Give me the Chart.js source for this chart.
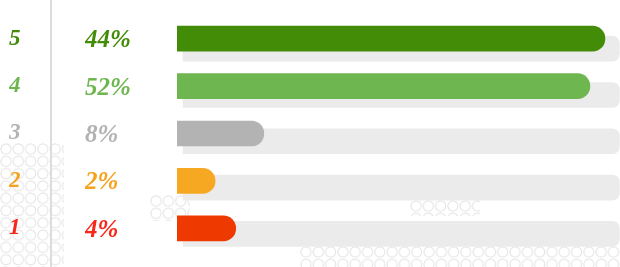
<!DOCTYPE html>
<html><head><meta charset="utf-8">
<script src="https://cdn.jsdelivr.net/npm/chart.js@4/dist/chart.umd.min.js"></script>
<style>
html,body{margin:0;padding:0;background:#fff;}
#wrap{position:relative;width:620px;height:267px;overflow:hidden;background:#fff;}
.dots{position:absolute;background-image:radial-gradient(circle at 6px 6px, rgba(0,0,0,0) 4.3px, #e6e6e6 4.8px, #e6e6e6 5.4px, rgba(0,0,0,0) 5.9px);background-size:12.3px 12.3px;}
#vline{position:absolute;left:50px;top:0;width:2px;height:267px;background:#dcdcdc;}
canvas{position:absolute;left:0;top:0;}
</style></head><body>
<div id="wrap">
  <div class="dots" style="left:0;top:143px;width:64px;height:124px"></div>
  <div class="dots" style="left:150px;top:195px;width:40px;height:26px"></div>
  <div class="dots" style="left:300px;top:246px;width:320px;height:21px"></div>
  <div class="dots" style="left:410px;top:200px;width:70px;height:16px"></div>
  <div id="vline"></div>
  <canvas id="c" width="620" height="267"></canvas>
</div>
<script>
// ---- data ----
const ratings = ['5', '4', '3', '2', '1'];
const ratingValues = [5, 4, 3, 2, 1];
const percentLabels = ['44%', '52%', '8%', '2%', '4%'];
const barLengths = [96.6, 93.2, 19.6, 8.6, 13.25];
const trackLengths = [100, 100, 100, 100, 100];
const barColors = ['#438c07', '#6eb64f', '#b3b3b3', '#f7a823', '#ee3a00'];
const labelColors = ['#438c07', '#6eb64f', '#b3b3b3', '#f5a21f', '#f9261a'];

const trackData = ratingValues.map((v, i) => ({ x: trackLengths[i], y: v }));

new Chart(document.getElementById('c'), {
  type: 'bar',
  data: {
    labels: percentLabels,
    datasets: [
      {
        data: barLengths,
        backgroundColor: barColors,
        xAxisID: 'x', yAxisID: 'yPct',
        barThickness: 25, borderRadius: 13, borderSkipped: 'start', borderWidth: 0,
        grouped: false, order: 0
      },
      {
        data: trackData,
        backgroundColor: '#ebebeb',
        xAxisID: 'xTrack', yAxisID: 'yTrack',
        barThickness: 25, borderRadius: 7, borderSkipped: 'start', borderWidth: 0,
        grouped: false, order: 1
      }
    ]
  },
  options: {
    indexAxis: 'y',
    responsive: false,
    animation: false,
    devicePixelRatio: 1,
    layout: { padding: { left: 9, top: 12, bottom: 13, right: 0 } },
    plugins: { legend: { display: false }, tooltip: { enabled: false } },
    scales: {
      x: { type: 'linear', axis: 'x', display: false, min: 0, max: 100, offset: false, bounds: 'data' },
      xTrack: { type: 'linear', axis: 'x', display: false, min: -1.375, max: 100.161, offset: false, bounds: 'data' },
      yTrack: { type: 'linear', axis: 'y', display: false, min: 0.6087, max: 5.7277, offset: false, bounds: 'data', grid: { offset: false } },
      yPct: {
        type: 'category', axis: 'y', position: 'left', weight: 0, offset: true,
        labels: percentLabels,
        grid: { display: false }, border: { display: false },
        ticks: {
          crossAlign: 'far', padding: 0, labelOffset: 2,
          font: { family: 'Liberation Serif', style: 'italic', weight: 'bold', size: 25 },
          color: (c) => labelColors[c.index]
        },
        afterFit: (s) => { s.width = 92; }
      },
      yNum: {
        type: 'category', axis: 'y', position: 'left', weight: 1, offset: true,
        labels: ratings,
        grid: { display: false }, border: { display: false },
        ticks: {
          crossAlign: 'far', padding: 0,
          font: { family: 'Liberation Serif', style: 'italic', weight: 'bold', size: 23 },
          color: (c) => labelColors[c.index]
        },
        afterFit: (s) => { s.width = 76; }
      }
    }
  }
});
</script>
</body></html>
